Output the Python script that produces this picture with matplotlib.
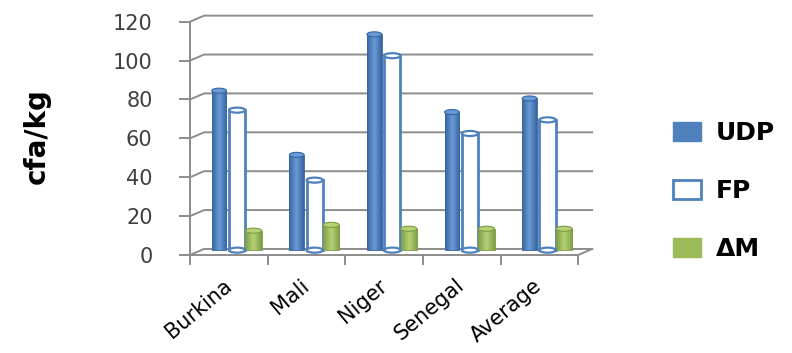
import matplotlib.pyplot as plt
import numpy as np
from matplotlib.colors import LinearSegmentedColormap
from matplotlib.patches import Ellipse, Patch

countries = ["Burkina", "Mali", "Niger", "Senegal", "Average"]
udp = [82, 49, 111, 71, 78]
fp = [72, 36, 100, 60, 67]
delta_m = [10, 13, 11, 11, 11]
y_ticks = [0, 20, 40, 60, 80, 100, 120]

BLUE = "#4F81BD"
GREEN = "#9BBB59"
GRID = "#8C8C8C"

# fake 3D: back wall shifted right/up from the front axis
DX, DY = 0.18, 3.1
BASE = 2.5


def shade(ax, bars, dark, light):
    cmap = LinearSegmentedColormap.from_list("cyl", [dark, light, dark])
    grad = np.linspace(0, 1, 64).reshape(1, -1)
    for b in bars:
        x0, y0 = b.get_x(), b.get_y()
        im = ax.imshow(grad, extent=[x0, x0 + b.get_width(), y0, y0 + b.get_height()],
                       cmap=cmap, aspect="auto", zorder=b.get_zorder() + 0.1)
        im.set_clip_path(b)
        top = Ellipse((x0 + b.get_width() / 2, y0 + b.get_height()), b.get_width(), 2.6,
                      facecolor=light, edgecolor=dark, lw=0.8, zorder=b.get_zorder() + 0.2)
        ax.add_patch(top)


fig = plt.figure(figsize=(7.92, 3.53), dpi=100)
ax = fig.add_axes([0.240, 0.2776, 0.490, 0.661])

x = np.arange(len(countries))

# wall gridlines and floor
for v in y_ticks:
    ax.plot([-0.5, -0.5 + DX, 4.5 + DX], [v, v + DY, v + DY],
            color=GRID, lw=1.4, clip_on=False, zorder=0)
ax.plot([-0.5, 4.5, 4.5 + DX], [0, 0, DY], color=GRID, lw=1.4, clip_on=False, zorder=0)

b_udp = ax.bar(x - 0.126, udp, 0.19, bottom=BASE, color=BLUE, edgecolor="#3A679E",
               lw=0.6, zorder=3)
shade(ax, b_udp, "#36659E", "#6A9BD8")

b_fp = ax.bar(x + 0.106, fp, 0.21, bottom=BASE, color="white", edgecolor=BLUE,
              lw=2, zorder=3)
for b in b_fp:
    cx = b.get_x() + b.get_width() / 2
    ax.add_patch(Ellipse((cx, b.get_y() + b.get_height()), b.get_width(), 2.6,
                         facecolor="white", edgecolor=BLUE, lw=1.6, zorder=3.3))
    ax.add_patch(Ellipse((cx, b.get_y()), b.get_width(), 2.6,
                         facecolor="white", edgecolor=BLUE, lw=1.6, zorder=3.3))

b_dm = ax.bar(x + 0.318, delta_m, 0.21, bottom=BASE, color=GREEN, edgecolor="#7E9C43",
              lw=0.6, zorder=3)
shade(ax, b_dm, "#7E9C43", "#B5D276")

ax.set_xlim(-0.5, 4.5)
ax.set_ylim(0, 120)

for s in ["top", "right"]:
    ax.spines[s].set_visible(False)
ax.spines["left"].set_color(GRID)
ax.spines["left"].set_linewidth(1.4)
ax.spines["bottom"].set_visible(False)

ax.set_yticks(y_ticks)
ax.tick_params(axis="y", direction="out", length=8, width=1.4, color=GRID,
               pad=19, labelsize=15, labelcolor="#404040")

ax.set_xticks(x)
ax.set_xticklabels(countries)
ax.set_xticks(np.arange(-0.5, 5, 1), minor=True)
ax.tick_params(axis="x", which="major", length=0, pad=20, labelsize=15)
ax.tick_params(axis="x", which="minor", direction="out", length=7, width=1.4, color=GRID)
plt.setp(ax.get_xticklabels(), rotation=40, ha="right", va="center",
         rotation_mode="anchor")

ax.set_ylabel("cfa/kg", fontsize=20, fontweight="bold")
ax.yaxis.set_label_coords(-0.36, 0.51)

handles = [
    Patch(facecolor=BLUE, edgecolor=BLUE),
    Patch(facecolor="white", edgecolor=BLUE, lw=2),
    Patch(facecolor=GREEN, edgecolor=GREEN),
]
fig.legend(handles, ["UDP", "FP", "ΔM"], loc="center left",
           bbox_to_anchor=(673 / 792, 1 - 191 / 353), frameon=False,
           prop={"weight": "bold", "size": 18}, handlelength=1.1, handleheight=0.8,
           handletextpad=0.6, labelspacing=1.35, borderpad=0, borderaxespad=0)

fig.savefig("out.png", dpi=100)
